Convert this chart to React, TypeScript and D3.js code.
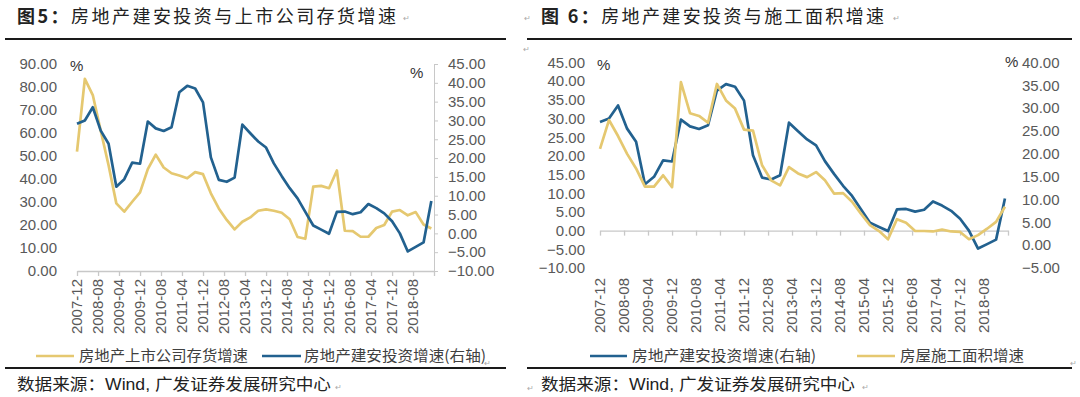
import React, { useEffect, useRef } from 'react'
import * as d3 from 'd3'

// quarterly observations
const quarters = [
    '2007-12',
    '2008-03', '2008-06', '2008-09', '2008-12',
    '2009-03', '2009-06', '2009-09', '2009-12',
    '2010-03', '2010-06', '2010-09', '2010-12',
    '2011-03', '2011-06', '2011-09', '2011-12',
    '2012-03', '2012-06', '2012-09', '2012-12',
    '2013-03', '2013-06', '2013-09', '2013-12',
    '2014-03', '2014-06', '2014-09', '2014-12',
    '2015-03', '2015-06', '2015-09', '2015-12',
    '2016-03', '2016-06', '2016-09', '2016-12',
    '2017-03', '2017-06', '2017-09', '2017-12',
    '2018-03', '2018-06', '2018-09', '2018-12',
    '2019-03',
]

// 房地产建安投资增速
const constructionInvest = [
    29.1, 30.0, 33.5, 27.3, 23.8, 12.4, 14.4, 18.8, 18.5, 29.7,
    27.9, 27.2, 28.2, 37.5, 39.2, 38.5, 34.8, 20.2, 14.2, 13.7,
    14.8, 28.9, 26.6, 24.4, 22.8, 18.6, 15.2, 12.0, 9.3, 5.7,
    2.1, 1.0, -0.1, 5.7, 5.8, 5.1, 5.6, 7.8, 6.7, 5.3,
    3.2, 0.0, -4.8, -3.6, -2.4, 8.6,
]

// 房地产上市公司存货增速
const inventoryGrowth = [
    51.9, 83.5, 76.5, 61.0, 46.0, 29.4, 25.8, 30.1, 34.2, 44.3,
    50.6, 45.0, 42.5, 41.5, 40.3, 43.0, 42.1, 33.8, 27.2, 22.2,
    18.1, 21.4, 23.3, 26.2, 26.8, 26.2, 25.3, 22.5, 14.8, 14.0,
    36.7, 37.0, 36.0, 43.7, 17.5, 17.3, 14.9, 14.9, 18.7, 20.0,
    25.8, 26.5, 24.2, 25.6, 20.2, 18.5,
]

// 房屋施工面积增速
const floorSpaceGrowth = [
    21.1, 27.4, 23.9, 20.0, 16.8, 12.8, 12.8, 15.3, 12.7, 35.7,
    28.9, 28.3, 26.8, 35.3, 31.7, 29.9, 25.3, 25.1, 17.5, 14.2,
    13.1, 17.1, 15.7, 14.9, 16.0, 14.2, 11.3, 11.4, 9.5, 6.9,
    4.4, 3.1, 1.3, 5.7, 4.9, 3.1, 3.1, 3.0, 3.4, 3.0,
    2.9, 1.3, 2.2, 3.6, 5.1, 8.4,
]

const tickLabels = [
    '2007-12', '2008-08', '2009-04', '2009-12', '2010-08', '2011-04',
    '2011-12', '2012-08', '2013-04', '2013-12', '2014-08', '2015-04',
    '2015-12', '2016-08', '2017-04', '2017-12', '2018-08',
]
const axisEnd = '2019-04'

const ticks0to90 = [0, 10, 20, 30, 40, 50, 60, 70, 80, 90]
const ticksM10to45 = [-10, -5, 0, 5, 10, 15, 20, 25, 30, 35, 40, 45]
const ticksM5to40 = [-5, 0, 5, 10, 15, 20, 25, 30, 35, 40]

const BLUE = '#22618f'
const YELLOW = '#e5c870'
const GREY = '#595959'
const AXIS = '#c8c8c8'
const NUM_FONT = '"Liberation Sans", Arial, sans-serif'
const CJK_FONT = '"Noto Sans CJK SC", "Noto Sans", sans-serif'

const parse = d3.timeParse('%Y-%m')

function drawPanel(svg, opt) {
    const g = svg.append('g')
    const x = d3.scaleTime()
        .domain([parse(quarters[0]), parse(axisEnd)])
        .range([opt.x0, opt.x1])
    const yL = d3.scaleLinear().domain(opt.leftDomain).range([opt.yBottom, opt.yTop])
    const yR = d3.scaleLinear().domain(opt.rightDomain).range([opt.yBottom, opt.yTop])
    const fmt = d3.format('.2f')

    // left value labels
    const la = g.append('g')
        .attr('transform', `translate(${opt.leftLabelX},0)`)
        .call(d3.axisLeft(yL).tickValues(opt.leftTicks).tickFormat(fmt).tickSize(0).tickPadding(0))
    la.select('.domain').remove()

    // right value labels
    const ra = g.append('g')
        .attr('transform', `translate(${opt.rightAxisX},0)`)
        .call(d3.axisRight(yR).tickValues(opt.rightTicks).tickFormat(fmt)
            .tickSize(opt.rightTickSize).tickSizeOuter(0).tickPadding(opt.rightPad))
    if (!opt.rightLine) ra.select('.domain').remove()
    ra.select('.domain').attr('stroke', AXIS)
    ra.selectAll('line').attr('stroke', AXIS)

    g.selectAll('.tick text')
        .attr('fill', GREY)
        .style('font-family', NUM_FONT)
        .style('font-size', '15px')

    // category axis
    const tickDates = tickLabels.concat([axisEnd]).map(parse)
    const xAxisY = opt.xAxisAtZero ? yL(0) : opt.yBottom
    const xa = g.append('g')
        .attr('transform', `translate(0,${xAxisY})`)
        .call(d3.axisBottom(x).tickValues(tickDates).tickFormat(() => '').tickSize(5).tickSizeOuter(0))
    xa.select('.domain').attr('stroke', AXIS).attr('stroke-width', 1.3)
    xa.selectAll('line').attr('stroke', AXIS).attr('stroke-width', 1.3)

    g.append('g')
        .selectAll('text')
        .data(tickLabels)
        .join('text')
        .text(d => d)
        .attr('transform', d => `translate(${x(parse(d)) + 5},${opt.labelTop}) rotate(-90)`)
        .attr('text-anchor', 'end')
        .attr('fill', GREY)
        .style('font-family', NUM_FONT)
        .style('font-size', '15px')

    // % units
    g.append('text').text('%')
        .attr('x', opt.pctLeft[0]).attr('y', opt.pctLeft[1])
        .attr('fill', '#333').style('font-family', NUM_FONT).style('font-size', '15px')
    g.append('text').text('%')
        .attr('x', opt.pctRight[0]).attr('y', opt.pctRight[1])
        .attr('fill', '#333').style('font-family', NUM_FONT).style('font-size', '15px')

    // lines
    opt.series.forEach(s => {
        const y = s.axis === 'left' ? yL : yR
        const line = d3.line()
            .x((d, i) => x(parse(quarters[i])))
            .y(d => y(d))
        g.append('path')
            .datum(s.values)
            .attr('d', line)
            .attr('fill', 'none')
            .attr('stroke', s.color)
            .attr('stroke-width', 2.7)
            .attr('stroke-linejoin', 'round')
    })

    // legend
    opt.legend.forEach(l => {
        g.append('line')
            .attr('x1', l.x1).attr('x2', l.x2)
            .attr('y1', 356).attr('y2', 356)
            .attr('stroke', l.color).attr('stroke-width', 2.7)
        g.append('text').text(l.text)
            .attr('x', l.tx).attr('y', 361)
            .attr('textLength', l.tw).attr('lengthAdjust', 'spacingAndGlyphs')
            .attr('fill', '#404040')
            .style('font-family', CJK_FONT)
            .style('font-size', '15px')
    })
}

const App = () => {
    const Chart = useRef()
    const width = 1080
    const height = 397

    useEffect(() => {
        const svg = d3.select(Chart.current)
        svg.selectAll('*').remove()

        // titles, rules and source notes
        const titles = [
            { x: 17, len: 379, head: '图5：', rest: '房地产建安投资与上市公司存货增速' },
            { x: 541, len: 343, head: '图 6：', rest: '房地产建安投资与施工面积增速' },
        ]
        titles.forEach(t => {
            const tx = svg.append('text')
                .attr('x', t.x).attr('y', 23)
                .attr('textLength', t.len).attr('lengthAdjust', 'spacing')
                .attr('fill', '#222')
                .style('font-family', CJK_FONT)
                .style('font-size', '18px')
            tx.append('tspan').text(t.head).style('font-weight', 700)
            tx.append('tspan').text(t.rest)
        })

        const rules = [[5, 506], [527, 1072]]
        rules.forEach(r => {
            svg.append('line').attr('x1', r[0]).attr('x2', r[1]).attr('y1', 39).attr('y2', 39)
                .attr('stroke', '#1a1a1a').attr('stroke-width', 1.8)
            svg.append('line').attr('x1', r[0]).attr('x2', r[1]).attr('y1', 368).attr('y2', 368)
                .attr('stroke', '#1a1a1a').attr('stroke-width', 1.8)
        })

        const sources = [{ x: 17 }, { x: 541 }]
        sources.forEach(s => {
            const st = svg.append('text')
                .attr('x', s.x).attr('y', 390)
                .attr('textLength', 314).attr('lengthAdjust', 'spacingAndGlyphs')
                .attr('fill', '#222')
                .style('font-family', CJK_FONT)
                .style('font-size', '16px')
            st.append('tspan').text('数据来源：')
            st.append('tspan').text('Wind, ').style('font-family', NUM_FONT)
            st.append('tspan').text('广发证券发展研究中心')
        })

        // paragraph marks
        const marks = [[403, 21], [893, 21], [524, 21], [523, 52], [335, 390], [527, 391], [862, 390], [1070, 366], [484, 366]]
        svg.append('g').selectAll('text').data(marks).join('text')
            .text('↵')
            .attr('x', d => d[0]).attr('y', d => d[1])
            .attr('fill', '#aaa')
            .style('font-family', NUM_FONT)
            .style('font-size', '8px')

        drawPanel(svg, {
            x0: 77, x1: 434, yTop: 64, yBottom: 271,
            leftDomain: [0, 90], rightDomain: [-10, 45],
            leftTicks: ticks0to90, rightTicks: ticksM10to45,
            leftLabelX: 57, rightAxisX: 434, rightTickSize: 4, rightPad: 10, rightLine: true,
            xAxisAtZero: false, labelTop: 279,
            pctLeft: [70, 71], pctRight: [410, 78],
            series: [
                { values: inventoryGrowth, axis: 'left', color: YELLOW },
                { values: constructionInvest, axis: 'right', color: BLUE },
            ],
            legend: [
                { x1: 36, x2: 74, color: YELLOW, tx: 79, tw: 169, text: '房地产上市公司存货增速' },
                { x1: 262, x2: 301, color: BLUE, tx: 304, tw: 182, text: '房地产建安投资增速(右轴)' },
            ],
        })

        drawPanel(svg, {
            x0: 600, x1: 1008, yTop: 62.5, yBottom: 268,
            leftDomain: [-10, 45], rightDomain: [-5, 40],
            leftTicks: ticksM10to45, rightTicks: ticksM5to40,
            leftLabelX: 585, rightAxisX: 1022, rightTickSize: 0, rightPad: 0, rightLine: false,
            xAxisAtZero: true, labelTop: 278,
            pctLeft: [597, 70], pctRight: [1005, 67],
            series: [
                { values: constructionInvest, axis: 'left', color: BLUE },
                { values: floorSpaceGrowth, axis: 'right', color: YELLOW },
            ],
            legend: [
                { x1: 590, x2: 627, color: BLUE, tx: 632, tw: 184, text: '房地产建安投资增速(右轴)' },
                { x1: 857, x2: 895, color: YELLOW, tx: 900, tw: 124, text: '房屋施工面积增速' },
            ],
        })
    })

    return (
        <div>
            <svg ref={Chart} width={width} height={height}
                style={{ position: 'absolute', left: 0, top: 0, background: '#fff' }}></svg>
        </div>
    )
}
export default App
